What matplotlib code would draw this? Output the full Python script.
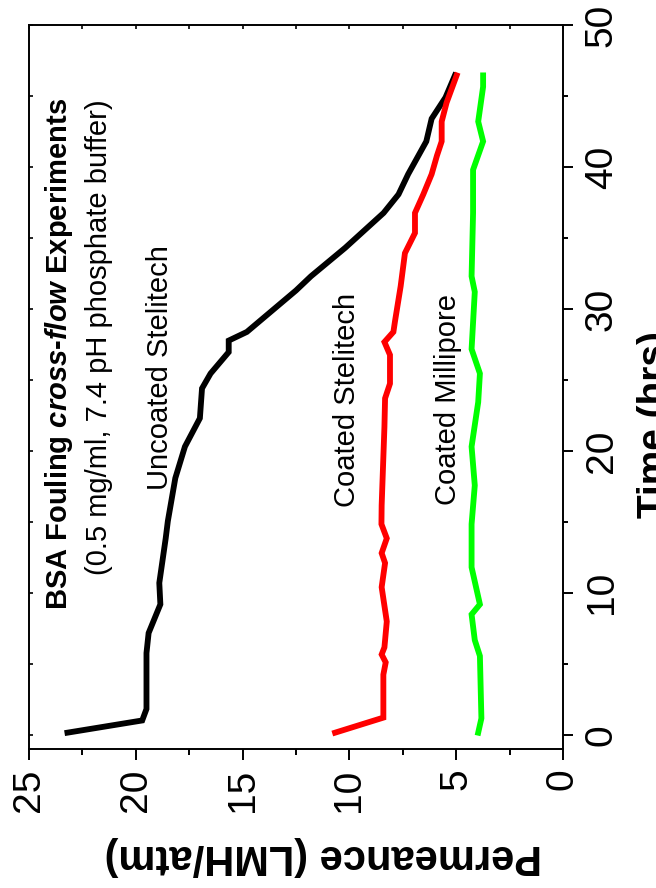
import matplotlib
matplotlib.use("Agg")
import matplotlib.pyplot as plt
from matplotlib.ticker import MultipleLocator

# Permeance (LMH/atm) versus time (hrs) for the three membranes
uncoated_time = [0.15, 1.01, 1.82, 5.76, 7.17, 9.19, 10.7, 13.84, 15.05, 18.08, 20.3, 22.3, 24.4, 25.45,
                 26.96, 27.77, 28.38, 31.3, 32.3, 33.3, 34.3, 36.76, 38.07, 39.49, 41.8, 43.4, 44.9, 46.45]
uncoated_perm = [23.2, 19.7, 19.5, 19.5, 19.4, 18.85, 18.9, 18.6, 18.5, 18.15, 17.7, 17.0, 16.9, 16.5,
                 15.65, 15.65, 14.8, 12.5, 11.8, 11.0, 10.2, 8.4, 7.7, 7.25, 6.4, 6.15, 5.5, 5.06]

coated_st_time = [0.15, 1.21, 4.24, 5.1, 5.66, 6.16, 7.98, 10.4, 12.1, 12.8, 13.84, 14.84, 16.16, 21.7,
                  23.7, 24.74, 26.76, 27.67, 28.38, 29.18, 31.6, 33.93, 35.35, 36.76, 38.07, 39.49,
                  40.8, 41.8, 43.2, 44.53, 46.45]
coated_st_perm = [10.67, 8.41, 8.41, 8.3, 8.49, 8.36, 8.25, 8.49, 8.33, 8.49, 8.25, 8.5, 8.49, 8.36,
                  8.33, 8.1, 8.1, 8.36, 7.94, 7.86, 7.6, 7.4, 6.93, 6.93, 6.54, 6.15,
                  5.9, 5.68, 5.68, 5.45, 4.98]

coated_mp_time = [0.15, 1.16, 5.55, 6.67, 8.48, 9.19, 11.8, 14.84, 17.57, 20.3, 23.43, 25.45, 27.17,
                  31.2, 32.3, 36.76, 39.8, 41.8, 43.2, 45.65, 46.45]
coated_mp_perm = [3.97, 3.82, 3.89, 4.13, 4.28, 3.89, 4.28, 4.28, 4.13, 4.28, 3.97, 3.89, 4.28,
                  4.13, 4.28, 4.21, 4.21, 3.74, 3.97, 3.74, 3.74]

perm_ticks = [0, 5, 10, 15, 20, 25]
time_ticks = [0, 10, 20, 30, 40, 50]

font = "Liberation Sans"
plt.rcParams["font.family"] = [font, "DejaVu Sans"]
plt.rcParams["mathtext.fontset"] = "custom"
plt.rcParams["mathtext.bfit"] = f"{font}:italic:bold"
plt.rcParams["mathtext.rm"] = font

fig = plt.figure(figsize=(6.56, 8.88), dpi=100)
W, H = 656, 888
left, right, top, bottom = 29, 563, 25, 749
ax = fig.add_axes([left / W, 1 - bottom / H, (right - left) / W, (bottom - top) / H])

lw = 4.2
ax.plot(uncoated_perm, uncoated_time, color="black", lw=lw, solid_joinstyle="miter")
ax.plot(coated_st_perm, coated_st_time, color="#ff0000", lw=lw, solid_joinstyle="miter")
ax.plot(coated_mp_perm, coated_mp_time, color="#00ff00", lw=lw, solid_joinstyle="miter")

ax.set_xlim(25, 0)
ax.set_ylim(-1, 50)

for s in ax.spines.values():
    s.set_linewidth(1.4)

# bottom axis: permeance, outward ticks
ax.xaxis.set_ticks_position("bottom")
ax.set_xticks(perm_ticks)
ax.xaxis.set_minor_locator(MultipleLocator(2.5))
ax.tick_params(axis="x", which="major", direction="out", length=8, width=1.4,
               labelsize=28, labelrotation=90, pad=6)
ax.tick_params(axis="x", which="minor", direction="out", length=4.5, width=1.4)

# right axis: time, outward ticks
ax.yaxis.set_ticks_position("right")
ax.set_yticks(time_ticks)
ax.yaxis.set_minor_locator(MultipleLocator(5))
ax.tick_params(axis="y", which="major", direction="out", length=7, width=1.4,
               labelsize=28, labelrotation=90, pad=8)
ax.tick_params(axis="y", which="minor", direction="out", length=3.5, width=1.4)
for lab in ax.get_yticklabels():
    lab.set_verticalalignment("center")

# mirrored inward ticks on the top and left spines
top_ax = ax.secondary_xaxis("top")
top_ax.set_xticks([0, 2.5, 5, 7.5, 10, 12.5, 15, 17.5, 20, 22.5, 25])
top_ax.tick_params(direction="in", length=3, width=1.2, labeltop=False)
top_ax.spines["top"].set_visible(False)
left_ax = ax.secondary_yaxis("left")
left_ax.set_yticks([0, 5, 10, 15, 20, 25, 30, 35, 40, 45, 50])
left_ax.tick_params(direction="in", length=3, width=1.2, labelleft=False)
left_ax.spines["left"].set_visible(False)

fig.text(323 / W, 1 - 856 / H, "Permeance (LMH/atm)", rotation=180, ha="center", va="center",
         fontsize=30, fontweight="bold")
fig.text(637 / W, 1 - 425 / H, "Time (hrs)", rotation=90, ha="left", va="center",
         fontsize=28, fontweight="bold")

ax.text(23.6, 26.8, r"BSA Fouling $\mathbfit{cross}$-$\mathbfit{flow}$ Experiments", rotation=90,
        ha="center", va="center", fontsize=21, fontweight="bold")
ax.text(21.7, 28.0, "(0.5 mg/ml, 7.4 pH phosphate buffer)", rotation=90,
        ha="center", va="center", fontsize=21)
ax.text(18.85, 25.9, "Uncoated Stelitech", rotation=90, ha="center", va="center", fontsize=21)
ax.text(10.1, 23.6, "Coated Stelitech", rotation=90, ha="center", va="center", fontsize=21)
ax.text(5.4, 23.6, "Coated Millipore", rotation=90, ha="center", va="center", fontsize=21)

fig.savefig("out.png", dpi=100)
